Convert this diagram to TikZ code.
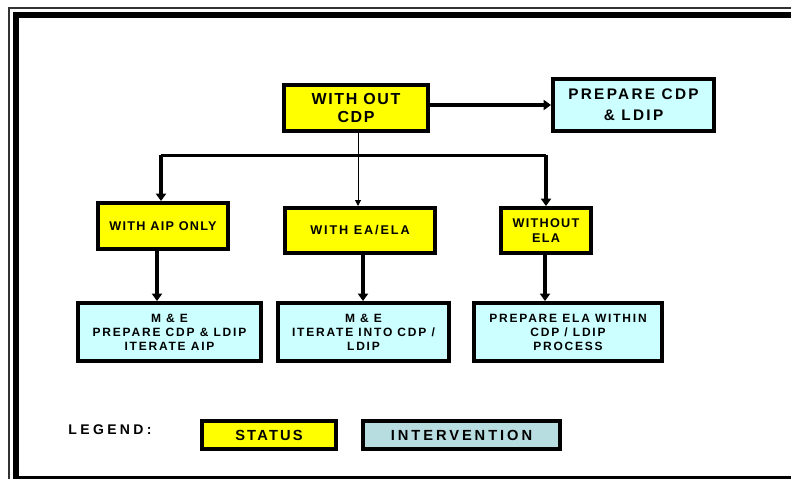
\documentclass[tikz,border=0pt]{standalone}
\usepackage{fontspec}
\setmainfont{Liberation Sans}
\newfontfamily\lsTen[LetterSpace=10]{Liberation Sans}
\newfontfamily\lsFifteen[LetterSpace=15]{Liberation Sans}
\newfontfamily\lsTwenty[LetterSpace=20]{Liberation Sans}
\newfontfamily\lsWide[LetterSpace=24]{Liberation Sans}
\usetikzlibrary{arrows.meta}
\definecolor{statusfill}{RGB}{255,255,0}
\definecolor{intfill}{RGB}{204,255,255}
\definecolor{legfill}{RGB}{184,221,224}
\tikzset{
  box/.style={draw=black, line width=3pt, align=center, inner sep=0pt, text=black},
  statusbox/.style={box, fill=statusfill},
  intbox/.style={box, fill=intfill},
  heavy/.style={line width=2.6pt, -{Triangle[width=7.5pt,length=5.5pt]}},
  heavyline/.style={line width=2.4pt},
  light/.style={line width=0.75pt, -{Triangle[width=4.5pt,length=4.5pt]}},
}
\begin{document}
\begin{tikzpicture}[x=0.75pt,y=-0.75pt]
\useasboundingbox (0,0) rectangle (791,478);
\clip (0,0) rectangle (791,478);
\fill[white] (0,0) rectangle (791,478);
% frame
\draw[line width=1.4pt, black!80] (9,8) rectangle (820,490);
\draw[line width=4.6pt] (16,15) rectangle (820,479.5);
% top row
\node[statusbox, minimum width=108pt, minimum height=34.5pt,
      font={\lsTen\bfseries\fontsize{12}{14}\selectfont}] (wocdp) at (356,108) {WITH OUT\\CDP};
\node[intbox, minimum width=120.75pt, minimum height=39pt,
      font={\lsFifteen\bfseries\fontsize{11.5}{15.75}\selectfont}] (prep) at (633.5,105) {PREPARE CDP\\\& LDIP};
% second row
\node[statusbox, minimum width=97.5pt, minimum height=34.5pt,
      font={\lsTen\bfseries\fontsize{9.5}{11.25}\selectfont}] (aip) at (163,226) {WITH AIP ONLY};
\node[statusbox, minimum width=112.5pt, minimum height=33.75pt,
      font={\lsFifteen\bfseries\fontsize{9.5}{11.25}\selectfont}] (ea) at (360,230.5) {WITH EA/ELA};
\node[statusbox, minimum width=67.5pt, minimum height=33.75pt,
      font={\lsTen\bfseries\fontsize{9.5}{11.25}\selectfont}] (woela) at (546,230.5) {WITHOUT\\ELA};
% third row
\node[intbox, minimum width=137.25pt, minimum height=43.5pt,
      font={\lsFifteen\bfseries\fontsize{9}{10.5}\selectfont}] (me1) at (169.5,332) {M \& E\\PREPARE CDP \& LDIP\\ITERATE AIP};
\node[intbox, minimum width=128.25pt, minimum height=43.5pt,
      font={\lsFifteen\bfseries\fontsize{9}{10.5}\selectfont}] (me2) at (363.5,332) {M \& E\\ITERATE INTO CDP /\\LDIP};
\node[intbox, minimum width=141pt, minimum height=43.5pt,
      font={\lsFifteen\bfseries\fontsize{9}{10.5}\selectfont}] (me3) at (568,332) {PREPARE ELA WITHIN\\CDP / LDIP\\PROCESS};
% legend
\node[font={\lsWide\bfseries\fontsize{10.5}{12}\selectfont}, inner sep=0pt] (leg) at (110,430) {LEGEND:};
\node[statusbox, minimum width=100.5pt, minimum height=21pt,
      font={\lsFifteen\bfseries\fontsize{11}{12}\selectfont}] (lstatus) at (269,435) {STATUS};
\node[box, fill=legfill, minimum width=147.75pt, minimum height=21pt,
      font={\lsTwenty\bfseries\fontsize{11}{12}\selectfont}] (lint) at (461.5,435) {INTERVENTION};
% connectors
\coordinate (busL) at (161,157);
\coordinate (busR) at (546,157);
\draw[heavy] (wocdp.east |- 0,105) -- (prep.west |- 0,105);
\draw[heavyline] ([yshift=0.9pt]busL) -- ([yshift=0.9pt]busR);
\draw[heavy] ([yshift=1.8pt]busL) -- (busL |- aip.north);
\draw[heavy] ([yshift=1.8pt]busR) -- (busR |- woela.north);
\draw[light] (wocdp.south -| 358,0) -- (ea.north -| 358,0);
\draw[heavy] (aip.south -| 157,0) -- (me1.north -| 157,0);
\draw[heavy] (ea.south -| 363,0) -- (me2.north -| 363,0);
\draw[heavy] (woela.south -| 545,0) -- (me3.north -| 545,0);
\end{tikzpicture}
\end{document}
